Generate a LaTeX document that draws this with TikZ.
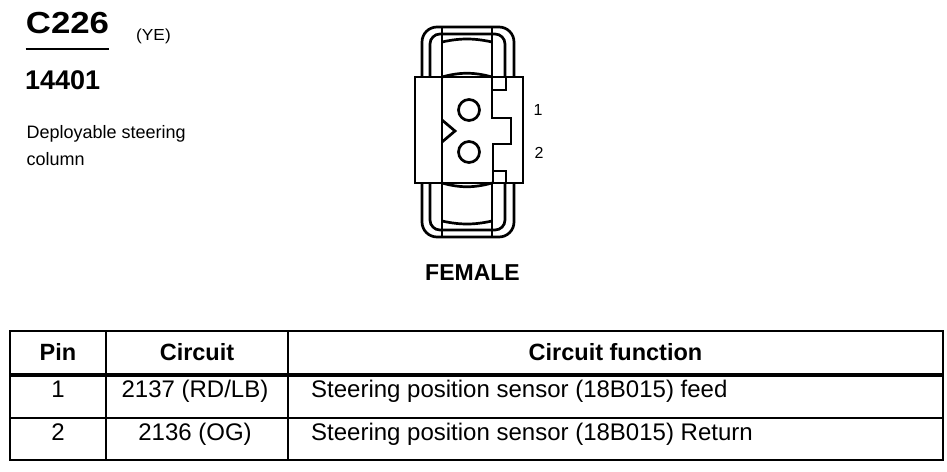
\documentclass[tikz,border=0pt]{standalone}
\usepackage{fontspec}
\setmainfont{Liberation Sans}
\begin{document}
\begin{tikzpicture}[x=1pt,y=-1pt,
  conn/.style={line width=2.7pt},
  tbl/.style={line width=2.2pt},
  txt/.style={inner sep=0pt, anchor=base west},
  ctxt/.style={inner sep=0pt, anchor=base},
  fs/.style={font=\fontsize{#1}{#1}\selectfont},
  fsb/.style={font=\fontsize{#1}{#1}\selectfont\bfseries}]
\useasboundingbox (0,0) rectangle (947,471);
\fill[white] (0,0) rectangle (947,471);
% ---- title block
\node[txt, fsb=29] (title) at (25.7,33.3) {\scalebox{1.2}[1.05]{C226}};
\node[txt, fs=16] (color) at (136,40) {\scalebox{1.08}[1]{(YE)}};
\draw[line width=2pt] (25.7,48.5) -- (109.3,48.5);
\node[txt, fsb=27] (num) at (25,89.3) {14401};
\node[txt, fs=18] (desc1) at (26.5,138.3) {Deployable steering};
\node[txt, fs=18] (desc2) at (26.5,165) {column};
% ---- connector drawing
\draw[conn, rounded corners=15pt] (422,27) rectangle (514,237);
\draw[conn, rounded corners=10pt] (430,34) rectangle (505,230);
\draw[conn] (442,27) -- (442,237);
\draw[conn] (492,27) -- (492,237);
\draw[conn] (442,42) .. controls (460,38) and (474,38) .. (492,42);
\draw[conn] (442,221) .. controls (460,225) and (474,225) .. (492,221);
\draw[conn, fill=white] (415,77) rectangle (523,183);
\draw[conn] (442,77) -- (442,183);
\draw[conn] (442,77) .. controls (460,72) and (474,72) .. (492,77);
\draw[conn] (442,183) .. controls (460,188) and (474,188) .. (492,183);
\draw[conn] (492,77) -- (492,118) -- (511,118) -- (511,144) -- (493,144) -- (493,183);
\draw[conn] (492,90) -- (506,90) -- (506,77);
\draw[conn] (493,171) -- (506,171) -- (506,183);
\draw[conn] (442,120) -- (455,131) -- (442,142);
\draw[conn] (469,110) circle (10.5pt);
\draw[conn] (469,152) circle (10.5pt);
\node[ctxt, fs=16] (p1) at (538,115.5) {1};
\node[ctxt, fs=16] (p2) at (539,158.5) {2};
\node[ctxt, fsb=23] (female) at (472.5,280) {FEMALE};
% ---- table
\draw[tbl] (10,331) rectangle (943,460);
\draw[line width=3.5pt] (10,375) -- (943,375);
\draw[tbl] (10,418) -- (943,418);
\draw[tbl] (106,331) -- (106,460);
\draw[tbl] (288,331) -- (288,460);
\node[ctxt, fsb=23.5] (hpin) at (58,360.5) {Pin};
\node[ctxt, fsb=23.5] (hcirc) at (197,360.5) {Circuit};
\node[ctxt, fsb=23.5] (hfunc) at (615.5,360.5) {Circuit function};
\node[ctxt, fs=24] (r1pin) at (58,397) {1};
\node[ctxt, fs=24] (r1circ) at (195,397) {2137 (RD/LB)};
\node[txt, fs=24] (r1func) at (311,397) {Steering position sensor (18B015) feed};
\node[ctxt, fs=24] (r2pin) at (58,440) {2};
\node[ctxt, fs=24] (r2circ) at (195,440) {2136 (OG)};
\node[txt, fs=24] (r2func) at (311,440) {Steering position sensor (18B015) Return};
\end{tikzpicture}
\end{document}
